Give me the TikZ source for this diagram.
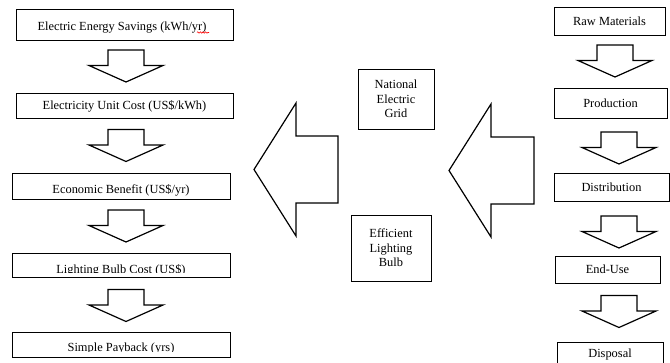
\documentclass[tikz,border=0pt]{standalone}
\usepackage{fontspec}
\setmainfont{Liberation Serif}
\usepackage{tikz}
\usetikzlibrary{backgrounds,decorations.pathmorphing}
\pgfdeclarelayer{edgelayer}
\pgfdeclarelayer{nodelayer}
\pgfsetlayers{edgelayer,nodelayer,main}
\tikzstyle{stage}=[rectangle,draw=black,fill=white,line width=0.8,inner sep=0pt,font=\fontsize{12.4}{14.5}\selectfont]
\tikzstyle{stagetext}=[inner sep=0pt,anchor=base,font=\fontsize{12.4}{14.5}\selectfont]
\tikzstyle{blockarrow}=[draw=black,fill=white,line width=1.2,line join=miter]
\tikzstyle{spellmark}=[draw=red,line width=0.6,decorate,decoration={snake,amplitude=0.7,segment length=2.6}]
\tikzset{
  downblock/.pic={\path [style=blockarrow] (-18,0) -- (18,0) -- (18,15.5) -- (37,15.5) -- (0,32) -- (-37,15.5) -- (-18,15.5) -- cycle;},
  leftblock/.pic={\path [style=blockarrow] (0,0) -- (42,-66.5) -- (42,-33.5) -- (#1,-33.5) -- (#1,33.5) -- (42,33.5) -- (42,66.5) -- cycle;}
}

\begin{document}
\begin{tikzpicture}[x=1pt,y=-1pt]
	\useasboundingbox (0,0) rectangle (670,362);
	\begin{pgfonlayer}{nodelayer}
		% payback chain
		\node [style=stage,minimum width=217,minimum height=31] (saving) at (124.5, 24.5) {};
		\node [style=stagetext] (savingtext) at (122, 30) {Electric Energy Savings (kWh/yr)};
		\node [style=stage,minimum width=217,minimum height=25] (unitcost) at (124.5, 105.5) {};
		\node [style=stagetext] (unitcosttext) at (124.5, 109) {Electricity Unit Cost (US\$/kWh)};
		\node [style=stage,minimum width=218,minimum height=26] (benefit) at (121, 186) {};
		\node [style=stage,minimum width=218,minimum height=24] (bulbcost) at (121, 265) {};
		\node [style=stage,minimum width=218,minimum height=25] (payback) at (121, 344.5) {};

		\node [style=stage,minimum width=76,minimum height=60,align=center] (grid) at (396, 99) {National\\Electric\\Grid};
		\node [style=stage,minimum width=80,minimum height=66,align=center] (bulb) at (391, 248) {Efficient\\Lighting\\Bulb};

		% life cycle
		\node [style=stage,minimum width=111,minimum height=28] (raw) at (609.5, 21) {Raw Materials};
		\node [style=stage,minimum width=113,minimum height=30] (prod) at (610.5, 103) {Production};
		\node [style=stage,minimum width=115,minimum height=28] (distr) at (611.5, 187) {Distribution};
		\node [style=stage,minimum width=105,minimum height=27] (enduse) at (607.5, 269.5) {End-Use};
		\node [style=stage,minimum width=106,minimum height=26,anchor=north] (disposal) at (610, 342) {};
		\node [style=stagetext] (disposaltext) at (610, 357) {Disposal};

		\begin{scope}
			\clip ([yshift=1pt]benefit.south west) rectangle (benefit.north east);
			\node [style=stagetext] (benefittext) at (121, 193) {Economic Benefit (US\$/yr)};
		\end{scope}
		\begin{scope}
			\clip ([yshift=5pt]bulbcost.south west) rectangle (bulbcost.north east);
			\node [style=stagetext] (bulbcosttext) at (121, 273) {Lighting Bulb Cost (US\$)};
		\end{scope}
		\begin{scope}
			\clip ([yshift=6pt]payback.south west) rectangle (payback.north east);
			\node [style=stagetext] (paybacktext) at (121, 351) {Simple Payback (yrs)};
		\end{scope}
		\draw [style=spellmark] (197, 32.5) -- (209, 32.5);
	\end{pgfonlayer}
	\begin{pgfonlayer}{edgelayer}
		\foreach \y in {50,129.5,210,289.5}
			\pic at (126,\y) {downblock};
		\pic at (615,45) {downblock};
		\pic at (619,132) {downblock};
		\pic at (619,216) {downblock};
		\pic at (619,295.5) {downblock};
		\pic at (254,169.5) {leftblock=84};
		\pic at (449,170.5) {leftblock=85};
	\end{pgfonlayer}
\end{tikzpicture}
\end{document}
